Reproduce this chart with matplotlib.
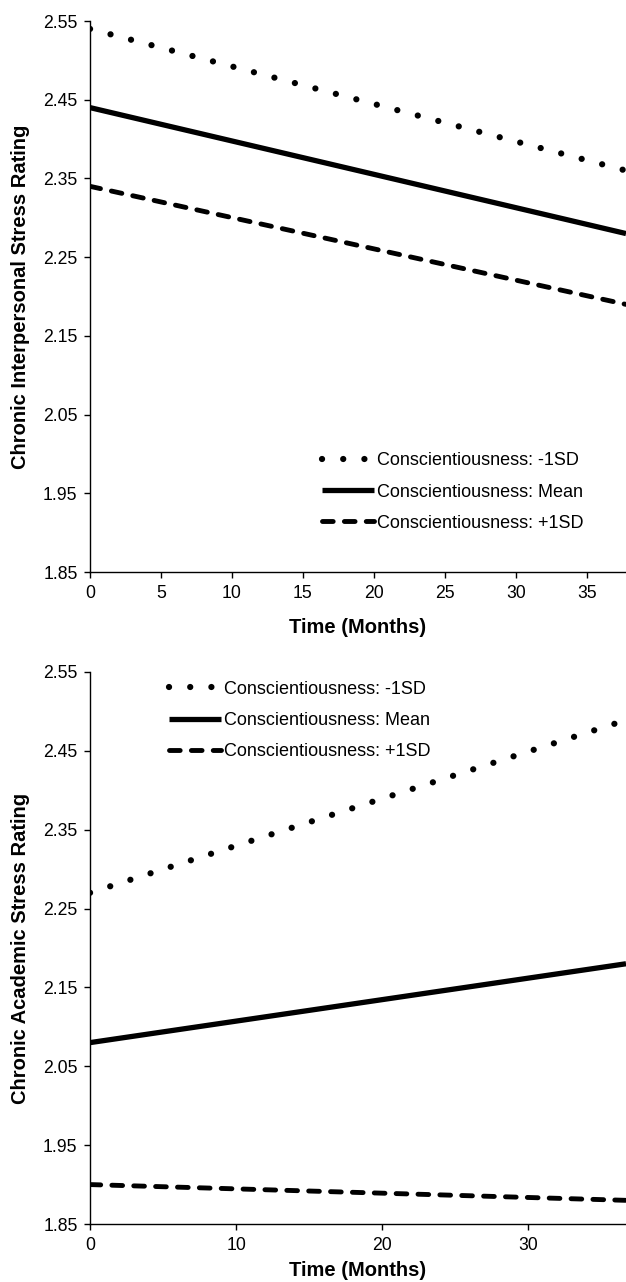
import numpy as np
import matplotlib
matplotlib.use("Agg")
import matplotlib.pyplot as plt

plt.rcParams['font.family'] = ['Liberation Sans', 'DejaVu Sans']

# --- data (simple slopes, endpoints of each line) ---
months_top = [0, 37.75]
inter_low = [2.54, 2.36]     # Conscientiousness -1SD
inter_mean = [2.44, 2.28]    # Conscientiousness mean
inter_high = [2.34, 2.19]    # Conscientiousness +1SD

months_bottom = [0, 36.7]
acad_low = [2.27, 2.489]
acad_mean = [2.08, 2.18]
acad_high = [1.90, 1.88]

series_labels = ["Conscientiousness: -1SD",
                 "Conscientiousness: Mean",
                 "Conscientiousness: +1SD"]
y_ticks = [1.85, 1.95, 2.05, 2.15, 2.25, 2.35, 2.45, 2.55]
x_ticks_top = [0, 5, 10, 15, 20, 25, 30, 35]
x_ticks_bottom = [0, 10, 20, 30]

# --- line styles ---
dotted = dict(color="black", lw=4.5, dashes=(0.01, 3.38),
              dash_capstyle="round")
solid = dict(color="black", lw=3.8, solid_capstyle="butt")
dashed = dict(color="black", lw=3.5, dashes=(2.2, 2.3),
              dash_capstyle="round")


def style_axes(ax, xmax, xticks, ylabel, xlabel_y):
    ax.set_xlim(0, xmax)
    ax.set_ylim(1.85, 2.55)
    ax.set_xticks(xticks)
    ax.set_yticks(y_ticks)
    ax.set_yticklabels([f"{v:.2f}" for v in y_ticks])
    for s in ["top", "right"]:
        ax.spines[s].set_visible(False)
    for s in ["left", "bottom"]:
        ax.spines[s].set_linewidth(1.0)
    ax.tick_params(direction="out", length=4, width=1.0,
                   labelsize=12.7, pad=5)
    ax.set_ylabel(ylabel, fontsize=14.5, fontweight="bold")
    ax.yaxis.set_label_coords(-0.13, 0.5)
    ax.yaxis.label.set_va("center")
    ax.set_xlabel("Time (Months)", fontsize=14.5, fontweight="bold")
    ax.xaxis.set_label_coords(0.5, xlabel_y)
    ax.xaxis.label.set_va("center")


fig = plt.figure(figsize=(6.26, 12.82), dpi=100)

# Top: interpersonal stress
ax1 = fig.add_axes([0.1438, 0.5538, 0.8562, 0.4298])
ax1.plot(months_top, inter_low, label=series_labels[0], **dotted)
ax1.plot(months_top, inter_mean, label=series_labels[1], **solid)
ax1.plot(months_top, inter_high, label=series_labels[2], **dashed)
style_axes(ax1, months_top[-1], x_ticks_top,
           "Chronic Interpersonal Stress Rating", -0.1)
ax1.legend(loc="upper left", bbox_to_anchor=(0.433, 0.217),
           frameon=False, fontsize=13, handlelength=2.9,
           handletextpad=0.15, labelspacing=0.78,
           borderpad=0, borderaxespad=0)

# Bottom: academic stress
ax2 = fig.add_axes([0.1438, 0.04524, 0.8562, 0.4306])
ax2.plot(months_bottom, acad_low, label=series_labels[0], **dotted)
ax2.plot(months_bottom, acad_mean, label=series_labels[1], **solid)
ax2.plot(months_bottom, acad_high, label=series_labels[2], **dashed)
style_axes(ax2, months_bottom[-1], x_ticks_bottom,
           "Chronic Academic Stress Rating", -0.085)
ax2.legend(loc="upper left", bbox_to_anchor=(0.147, 0.984),
           frameon=False, fontsize=13, handlelength=2.9,
           handletextpad=0.15, labelspacing=0.78,
           borderpad=0, borderaxespad=0)

plt.savefig("out.png", dpi=100)
